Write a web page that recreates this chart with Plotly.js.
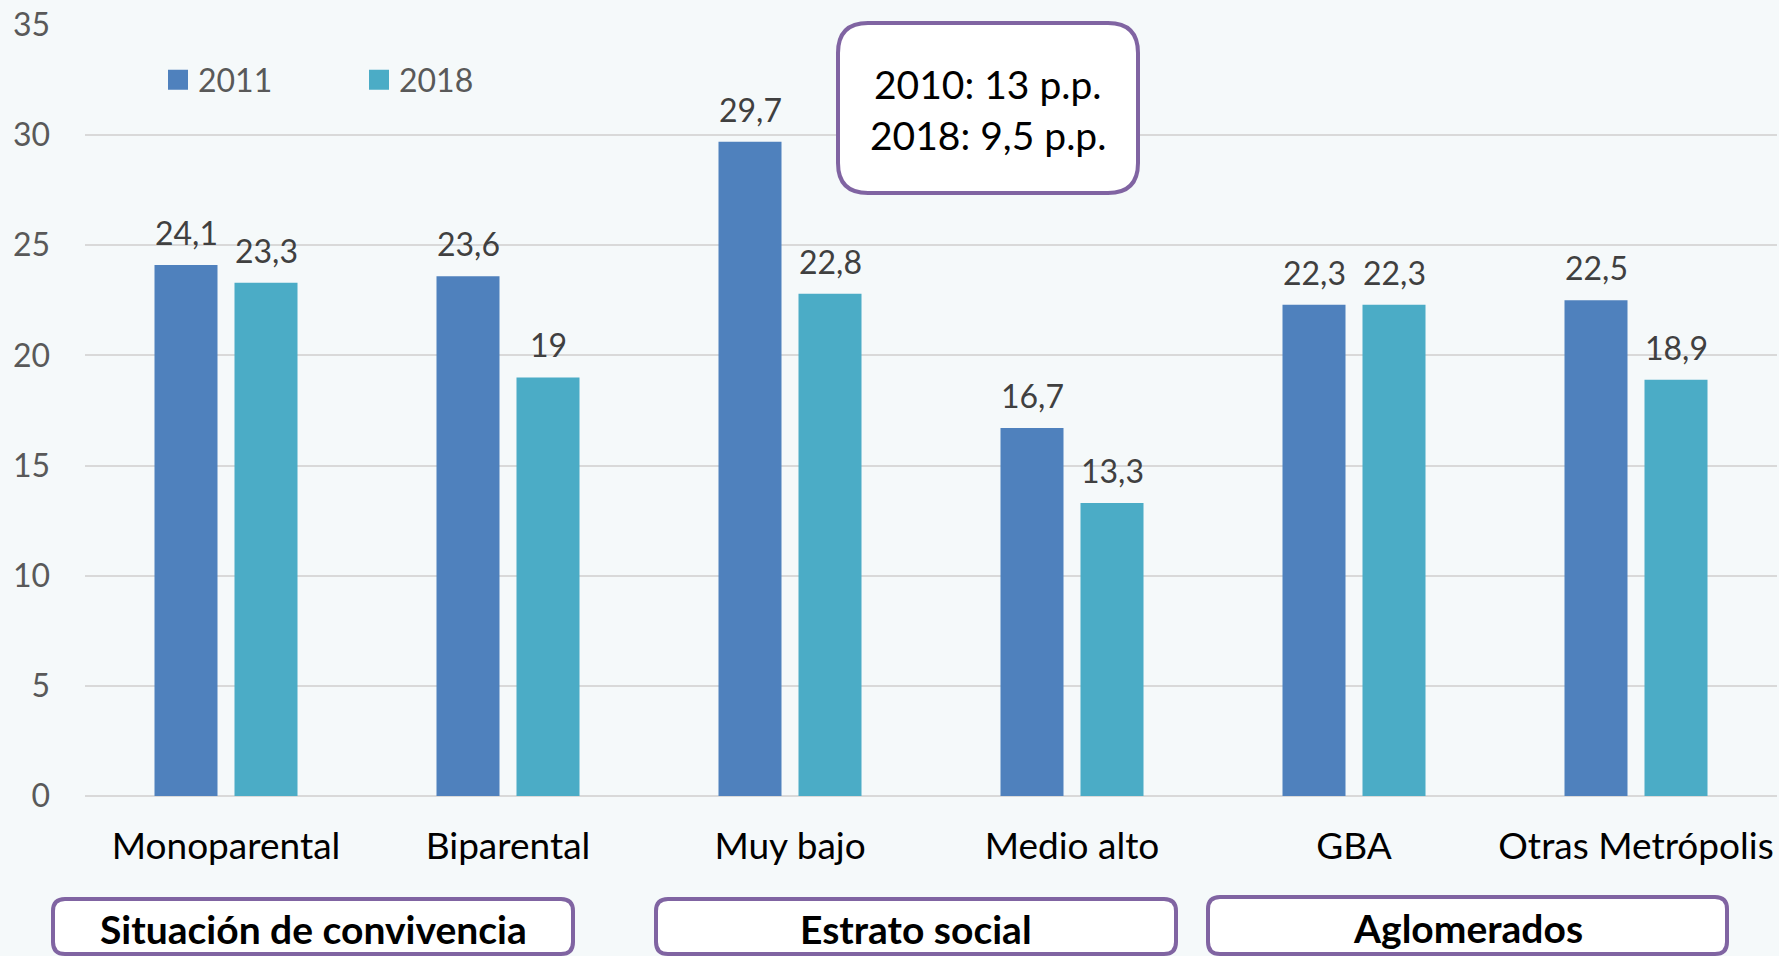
<!DOCTYPE html>
<html>
<head>
<meta charset="utf-8">
<script src="https://cdn.plot.ly/plotly-3.0.1.min.js"></script>
<style>
  html, body { margin: 0; padding: 0; background: #f5f9fa; }
  #chart { width: 1779px; height: 956px; }
</style>
</head>
<body>
<div id="chart"></div>
<script>
// ---- data ----
const categories = ['Monoparental', 'Biparental', 'Muy bajo', 'Medio alto', 'GBA', 'Otras Metrópolis'];
const values2011 = [24.1, 23.6, 29.7, 16.7, 22.3, 22.5];
const values2018 = [23.3, 19, 22.8, 13.3, 22.3, 18.9];
const seriesNames = ['2011', '2018'];
const groupLabels = ['Situación de convivencia', 'Estrato social', 'Aglomerados'];
const noteLines = ['2010: 13 p.p.', '2018: 9,5 p.p.'];
const yTickValues = [0, 5, 10, 15, 20, 25, 30, 35];

// ---- layout geometry (pixels) ----
const W = 1779, H = 956;
const M = { l: 85, r: 2, t: 25, b: 160 };
const PW = W - M.l - M.r, PH = H - M.t - M.b;
const px = x => (x - M.l) / PW;
const py = y => (H - M.b - y) / PH;

const FONT = 'Lato, "Open Sans", sans-serif';
const colors = ['#4f81bd', '#4bacc6'];
const purple = '#8064a2';

function roundedRect(x0, y0, x1, y1, r) {
  const rx = r / PW, ry = r / PH;
  const X0 = px(x0), X1 = px(x1), Y0 = py(y0), Y1 = py(y1); // Y0 top, Y1 bottom
  return `M${X0 + rx},${Y0} L${X1 - rx},${Y0} Q${X1},${Y0} ${X1},${Y0 - ry} ` +
         `L${X1},${Y1 + ry} Q${X1},${Y1} ${X1 - rx},${Y1} ` +
         `L${X0 + rx},${Y1} Q${X0},${Y1} ${X0},${Y1 + ry} ` +
         `L${X0},${Y0 - ry} Q${X0},${Y0} ${X0 + rx},${Y0} Z`;
}

const fmt = v => String(v).replace('.', ',');

const series = [values2011, values2018];
const traces = series.map((vals, i) => ({
  type: 'bar',
  name: seriesNames[i],
  x: categories,
  y: vals,
  marker: { color: colors[i], line: { width: 0 } },
  hoverinfo: 'skip'
}));

const annotations = [];
series.forEach((vals, i) => {
  vals.forEach((v, j) => {
    annotations.push({
      x: categories[j], y: v, xref: 'x', yref: 'y',
      text: fmt(v), showarrow: false,
      xshift: i === 0 ? -40 : 40, yshift: 11,
      yanchor: 'bottom',
      font: { family: FONT, size: 32, color: '#404040' }
    });
  });
});

// group boxes
const groupBoxes = [[53, 899, 573, 954], [656, 899, 1176, 954], [1208, 897, 1727, 954]];
const shapes = [];
groupBoxes.forEach((b, k) => {
  shapes.push({
    type: 'path', xref: 'paper', yref: 'paper', layer: 'above',
    path: roundedRect(b[0], b[1], b[2], b[3], 12),
    fillcolor: '#ffffff', line: { color: purple, width: 4 }
  });
  annotations.push({
    xref: 'paper', yref: 'paper', x: px((b[0] + b[2]) / 2), y: py((b[1] + b[3]) / 2 + 2),
    text: '<b>' + groupLabels[k] + '</b>', showarrow: false,
    xanchor: 'center', yanchor: 'middle',
    font: { family: FONT, size: 39, color: '#000000' }
  });
});

// note box
shapes.push({
  type: 'path', xref: 'paper', yref: 'paper', layer: 'above',
  path: roundedRect(838, 23, 1138, 193, 30),
  fillcolor: '#ffffff', line: { color: purple, width: 4 }
});
const noteY = [84, 135];
noteLines.forEach((t, k) => {
  annotations.push({
    xref: 'paper', yref: 'paper', x: px(988), y: py(noteY[k]),
    text: t, showarrow: false, xanchor: 'center', yanchor: 'middle',
    font: { family: FONT, size: 39, color: '#000000' }
  });
});

const layout = {
  width: W, height: H,
  margin: M,
  paper_bgcolor: '#f5f9fa',
  plot_bgcolor: '#f5f9fa',
  separators: ',.',
  barmode: 'group',
  bargap: 0.4326,
  bargroupgap: 0.2125,
  showlegend: true,
  legend: {
    orientation: 'h', x: px(158), xanchor: 'left', y: py(80), yanchor: 'middle',
    font: { family: FONT, size: 32, color: '#595959' },
    bgcolor: 'rgba(0,0,0,0)', entrywidth: 156, entrywidthmode: 'pixels',
    itemclick: false, itemdoubleclick: false
  },
  xaxis: {
    type: 'category', categoryorder: 'array', categoryarray: categories,
    showgrid: false, showline: false, zeroline: false, ticks: '',
    tickfont: { family: FONT, size: 37, color: '#000000' },
    ticklabelstandoff: 25, fixedrange: true
  },
  yaxis: {
    range: [0, 35], tickvals: yTickValues, ticktext: yTickValues.map(String),
    showgrid: true, gridcolor: '#d9d9d9', gridwidth: 2,
    zeroline: true, zerolinecolor: '#d9d9d9', zerolinewidth: 2,
    showline: false, ticks: '',
    tickfont: { family: FONT, size: 32, color: '#595959' },
    ticklabelstandoff: 34, fixedrange: true
  },
  annotations: annotations,
  shapes: shapes,
  font: { family: FONT }
};

Plotly.newPlot('chart', traces, layout, { staticPlot: true, displayModeBar: false }).then(() => {
  document.querySelectorAll('.legend .legendpoints path').forEach(p => {
    p.setAttribute('d', 'M10,10H-10V-10H10Z');
  });
});
</script>
</body>
</html>
